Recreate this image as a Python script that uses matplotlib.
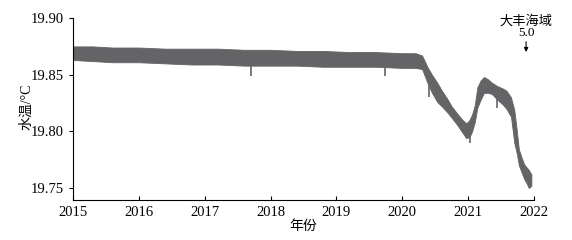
import matplotlib
matplotlib.use('Agg')
import matplotlib.pyplot as plt
import numpy as np

plt.rcParams['font.family'] = ['Liberation Serif', 'Noto Sans CJK SC', 'DejaVu Sans']

# envelope of the temperature band (decimal year, lower, upper)
t = [2015.00, 2015.30, 2015.60, 2016.00, 2016.40, 2016.80, 2017.20, 2017.60,
     2018.00, 2018.40, 2018.80, 2019.20, 2019.60, 2020.00, 2020.20, 2020.30,
     2020.38, 2020.45, 2020.53, 2020.60, 2020.68, 2020.75, 2020.83, 2020.90,
     2020.97, 2021.02, 2021.06, 2021.10, 2021.14, 2021.19, 2021.24, 2021.30,
     2021.36, 2021.44, 2021.52, 2021.58, 2021.65, 2021.70, 2021.74, 2021.77,
     2021.81, 2021.85, 2021.89, 2021.92, 2021.96]
low = [19.863, 19.862, 19.861, 19.861, 19.860, 19.859, 19.859, 19.858,
       19.858, 19.858, 19.857, 19.857, 19.857, 19.856, 19.856, 19.855,
       19.843, 19.834, 19.826, 19.822, 19.817, 19.812, 19.806, 19.800,
       19.794, 19.795, 19.800, 19.808, 19.821, 19.828, 19.834, 19.834,
       19.833, 19.828, 19.824, 19.820, 19.813, 19.790, 19.780, 19.770,
       19.764, 19.758, 19.754, 19.750, 19.752]
high = [19.875, 19.875, 19.874, 19.874, 19.873, 19.873, 19.873, 19.872,
        19.872, 19.871, 19.871, 19.870, 19.870, 19.869, 19.869, 19.867,
        19.857, 19.850, 19.843, 19.836, 19.829, 19.822, 19.816, 19.811,
        19.807, 19.810, 19.815, 19.823, 19.839, 19.845, 19.848, 19.846,
        19.843, 19.840, 19.838, 19.836, 19.830, 19.819, 19.800, 19.784,
        19.777, 19.771, 19.768, 19.766, 19.762]

# isolated downward spikes
spike_t = [2017.71, 2019.73, 2020.41, 2021.03, 2021.44]
spike_v = [19.849, 19.849, 19.830, 19.790, 19.821]

years = [2015, 2016, 2017, 2018, 2019, 2020, 2021, 2022]
yticks = [19.75, 19.80, 19.85, 19.90]

col = '#646467'
fig = plt.figure(figsize=(5.72, 2.4), dpi=100)
ax = fig.add_axes([0.1276, 0.1667, 0.806, 0.758])

ax.fill_between(t, low, high, color=col, linewidth=0.6, edgecolor=col)
ax.vlines(spike_t, spike_v, np.interp(spike_t, t, low) + 0.002, color=col, linewidth=1.2)

ax.set_xlim(2015, 2022)
ax.set_ylim(19.7394, 19.90)
ax.set_xticks(years)
ax.set_xticklabels([str(y) for y in years])
ax.set_yticks(yticks)
ax.set_yticklabels(['%.2f' % v for v in yticks])
ax.tick_params(axis='x', direction='in', length=3, labelsize=10.5, pad=4)
ax.tick_params(axis='y', direction='out', length=3, labelsize=10.5)
for s in ['top', 'right']:
    ax.spines[s].set_visible(False)
ax.set_xlabel('年份', fontsize=10, labelpad=1)
ax.set_ylabel('水温/°C', fontsize=10)
ax.yaxis.set_label_coords(-0.087, 0.51)

ax.annotate('大丰海域\n5.0', xy=(2021.88, 19.870), xytext=(2021.88, 19.8815),
            ha='center', va='bottom', fontsize=9.5, linespacing=0.95,
            annotation_clip=False,
            arrowprops=dict(arrowstyle='-|>', color='black', lw=0.8,
                            mutation_scale=6, shrinkA=0, shrinkB=0))

fig.savefig('out.png', dpi=100)
